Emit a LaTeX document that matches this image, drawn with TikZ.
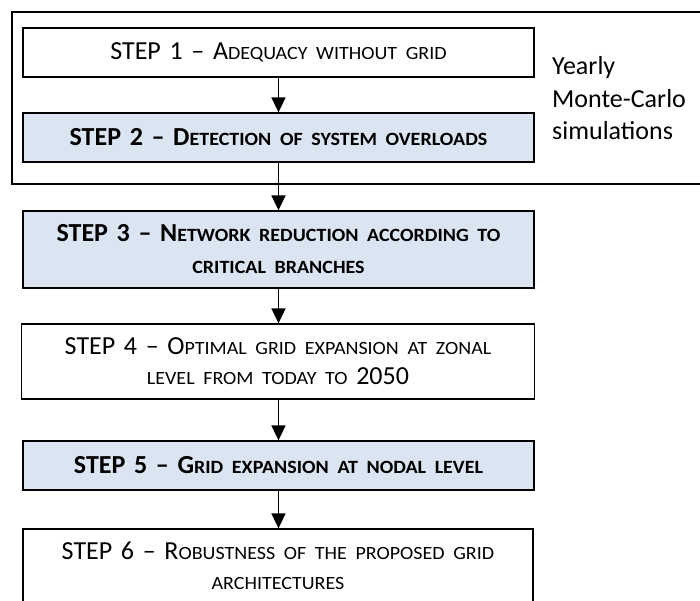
\documentclass[tikz,border=0pt]{standalone}
\usepackage{fontspec}
\setmainfont{Carlito}
% wider face for the reduced capitals that stand in for small caps
\newfontfamily\lcfont{Carlito}[FakeStretch=1.07]
\usetikzlibrary{arrows.meta}

\definecolor{stepblue}{HTML}{DBE5F1}

\newcommand{\lowcaps}[1]{{\lcfont\fontsize{18.7pt}{18.7pt}\selectfont #1}}

\tikzset{
  stepbox/.style={draw=black, line width=1.3pt, fill=white, inner sep=0pt,
    text width=511pt, align=center, minimum height=49pt,
    font=\fontsize{26pt}{30pt}\selectfont},
  stepblue box/.style={stepbox, fill=stepblue, font=\fontsize{26pt}{32pt}\selectfont\bfseries},
  flow/.style={line width=1.7pt, -{Triangle[width=14pt,length=15pt]}},
  sidetext/.style={anchor=base west, inner sep=0pt, font=\fontsize{26pt}{32pt}\selectfont}
}

\begin{document}
\begin{tikzpicture}[x=1pt, y=-1pt]
  \useasboundingbox (0,0) rectangle (700,601);

  % frame around the two simulation steps
  \draw[line width=1.3pt] (12,12) rectangle (712,184);

  \node[stepbox] (s1) at (278.5,52.5) {STEP 1 – A\lowcaps{DEQUACY WITHOUT GRID}};
  \node[stepblue box] (s2) at (278.5,137.5) {STEP 2 – D\lowcaps{ETECTION OF SYSTEM OVERLOADS}};
  \node[stepblue box, minimum height=77pt] (s3) at (278.5,249.5)
    {STEP 3 – N\lowcaps{ETWORK REDUCTION ACCORDING TO}\\\lowcaps{CRITICAL BRANCHES}};
  \node[stepbox, text width=513pt, minimum height=75pt] (s4) at (278,361.5)
    {STEP 4 – O\lowcaps{PTIMAL GRID EXPANSION AT ZONAL}\\\lowcaps{LEVEL FROM TODAY TO} 2050};
  \node[stepblue box] (s5) at (278.5,465.5) {STEP 5 – G\lowcaps{RID EXPANSION AT NODAL LEVEL}};
  \node[stepbox, text width=510pt, minimum height=74pt] (s6) at (278,566)
    {STEP 6 – R\lowcaps{OBUSTNESS OF THE PROPOSED GRID}\\\lowcaps{ARCHITECTURES}};

  \node[sidetext] (y1) at (552,75) {Yearly};
  \node[sidetext] (y2) at (552,107.5) {Monte-Carlo};
  \node[sidetext] (y3) at (552,140) {simulations};

  \draw[flow] (s1.south) -- (s1.south |- s2.north);
  \draw[flow] (s2.south) -- (s2.south |- s3.north);
  \draw[flow] (s3.south) -- (s3.south |- s4.north);
  \draw[flow] (s4.south -| s3.south) -- (s3.south |- s5.north);
  \draw[flow] (s5.south) -- (s5.south |- s6.north);
\end{tikzpicture}
\end{document}
